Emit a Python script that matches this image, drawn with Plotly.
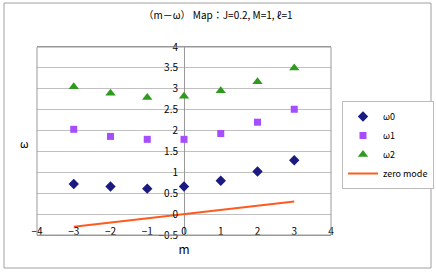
import plotly.graph_objects as go

m_vals = [-3, -2, -1, 0, 1, 2, 3]
omega0 = [0.72, 0.66, 0.61, 0.66, 0.80, 1.02, 1.29]
omega1 = [2.03, 1.86, 1.79, 1.79, 1.93, 2.20, 2.51]
omega2 = [3.05, 2.89, 2.79, 2.82, 2.95, 3.17, 3.50]
zero_mode = [-0.3, -0.2, -0.1, 0.0, 0.1, 0.2, 0.3]

x_ticks = [-4, -3, -2, -1, 0, 1, 2, 3, 4]
y_ticks = [-0.5, 0, 0.5, 1, 1.5, 2, 2.5, 3, 3.5, 4]

FONT = "Noto Sans CJK JP"

fig = go.Figure()
fig.add_trace(go.Scatter(x=m_vals, y=omega0, mode="markers", name="ω0",
                         marker=dict(symbol="diamond", size=8, color="#1a1a80")))
fig.add_trace(go.Scatter(x=m_vals, y=omega1, mode="markers", name="ω1",
                         marker=dict(symbol="square", size=7, color="#a64dff")))
fig.add_trace(go.Scatter(x=m_vals, y=omega2, mode="markers", name="ω2",
                         marker=dict(symbol="triangle-up", size=9, color="#2e9a1e")))
fig.add_trace(go.Scatter(x=m_vals, y=zero_mode, mode="lines", name="zero mode",
                         line=dict(color="#ff5a1f", width=2)))

L, R, T, B = 37, 105, 47, 38
PW, PH = 436 - L - R, 273 - T - B
fig.update_layout(
    width=436, height=273,
    margin=dict(l=L, r=R, t=T, b=B, pad=0, autoexpand=False),
    paper_bgcolor="white", plot_bgcolor="white",
    font=dict(family=FONT, size=10, color="black"),
    title=dict(text="（m－ω） Map：J=0.2, M=1, ℓ=1", x=0.5, xanchor="center",
               y=1 - 15 / 273, yanchor="middle", font=dict(size=10)),
    xaxis=dict(range=[-4, 4], tickvals=x_ticks, showgrid=False, zeroline=True,
               zerolinecolor="#999999", zerolinewidth=1, showline=True,
               linecolor="#999999", mirror=True, ticks="",
               ticklabelstandoff=-13,
               title=dict(text="m", standoff=8),
               tickfont=dict(size=10)),
    yaxis=dict(range=[-0.5, 4], tickvals=y_ticks, showgrid=True, gridcolor="#c0c0c0",
               zeroline=False, showline=False, anchor="free", position=0.5,
               ticks="", ticklabelstandoff=6, tickfont=dict(size=10), title=None),
    legend=dict(x=(342 - L) / PW, y=(235 - 101) / PH, xanchor="left", yanchor="top",
                bordercolor="#bbbbbb", borderwidth=1,
                font=dict(size=9), tracegroupgap=0, itemwidth=30),
    showlegend=True,
)
# plot border
fig.add_shape(type="rect", xref="paper", yref="paper", x0=0, y0=0, x1=1, y1=1,
              line=dict(color="#999999", width=1))
# outer chart border
fig.add_shape(type="rect", xref="paper", yref="paper",
              x0=(4 - L) / PW, x1=(431 - L) / PW,
              y0=(235 - 268) / PH, y1=(235 - 3) / PH,
              line=dict(color="#a0a0a0", width=1))
# y axis label
fig.add_annotation(text="ω", xref="paper", yref="paper",
                   x=(18 - L) / PW, y=(235 - 143) / PH, showarrow=False,
                   font=dict(size=11))
fig.write_html("out.html", config={"displayModeBar": False},
               post_script="document.body.style.margin='0';")
